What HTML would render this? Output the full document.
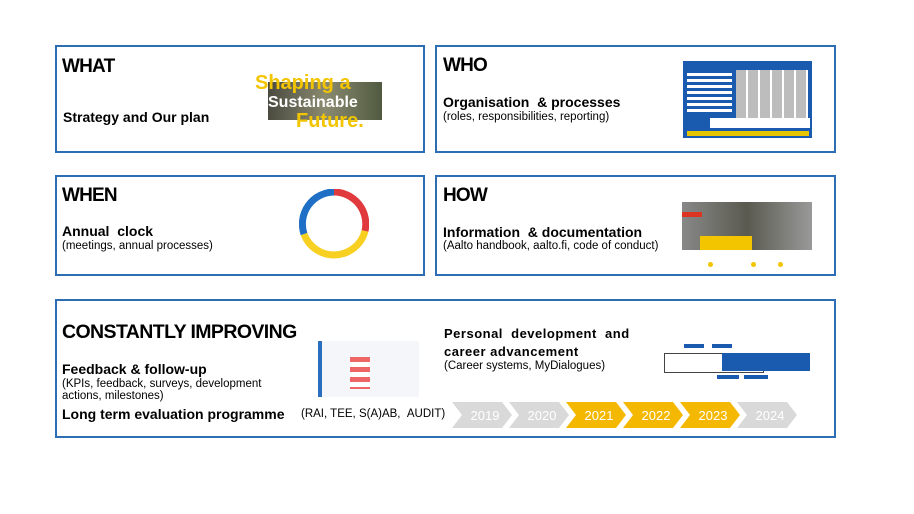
<!DOCTYPE html>
<html><head><meta charset="utf-8"><style>
body{margin:0;width:914px;height:514px;background:#fff;position:relative;overflow:hidden;font-family:"Liberation Sans",Arial,sans-serif;color:#000}
.b{position:absolute;border:2px solid #2d6db3;box-sizing:border-box}
.t{position:absolute;white-space:nowrap}
.h{font-weight:bold;font-size:19px;letter-spacing:-0.8px}
.s{font-weight:bold;font-size:14px}
.n{font-size:11.5px}
</style></head><body>
<div class="b" style="left:55px;top:45px;width:370px;height:108px"></div>
<div class="b" style="left:435px;top:45px;width:401px;height:108px"></div>
<div class="b" style="left:55px;top:175px;width:370px;height:101px"></div>
<div class="b" style="left:435px;top:175px;width:401px;height:101px"></div>
<div class="b" style="left:55px;top:299px;width:781px;height:139px"></div>

<div class="t h" style="left:62px;top:56px">WHAT</div>
<div class="t s" style="left:63px;top:109px">Strategy and Our plan</div>
<div style="position:absolute;left:268px;top:82px;width:114px;height:38px;background:linear-gradient(90deg,#4a4a40,#8a8a70,#505a40)"></div>
<div class="t" style="left:255px;top:72px;font-weight:bold;font-size:20px;color:#f2c500">Shaping a</div>
<div class="t" style="left:268px;top:94px;font-weight:bold;font-size:16px;color:#fff">Sustainable</div>
<div class="t" style="left:296px;top:110px;font-weight:bold;font-size:20px;color:#f2c500">Future.</div>

<div class="t h" style="left:443px;top:55px">WHO</div>
<div class="t s" style="left:443px;top:94px">Organisation &nbsp;&amp; processes</div>
<div class="t n" style="left:443px;top:111px">(roles, responsibilities, reporting)</div>
<div style="position:absolute;left:683px;top:61px;width:129px;height:77px;background:#1a5bb0"></div>
<div style="position:absolute;left:736px;top:70px;width:72px;height:48px;background:repeating-linear-gradient(90deg,#bdbdbd 0 10px,#fff 10px 12px)"></div>
<div style="position:absolute;left:687px;top:73px;width:45px;height:40px;background:repeating-linear-gradient(180deg,#fff 0 3px,#1a5bb0 3px 6px)"></div>
<div style="position:absolute;left:710px;top:118px;width:100px;height:10px;background:#fff"></div>
<div style="position:absolute;left:687px;top:131px;width:122px;height:5px;background:#e6c400"></div>

<div class="t h" style="left:62px;top:185px">WHEN</div>
<div class="t s" style="left:62px;top:223px">Annual &nbsp;clock</div>
<div class="t n" style="left:62px;top:240px">(meetings, annual processes)</div>
<svg style="position:absolute;left:299px;top:189px" width="70" height="70" viewBox="0 0 70 70">
<path d="M35 3 A32 32 0 0 1 66 42" fill="none" stroke="#e0393e" stroke-width="7"/>
<path d="M66 42 A32 32 0 0 1 5 45" fill="none" stroke="#f7d021" stroke-width="7"/>
<path d="M5 45 A32 32 0 0 1 35 3" fill="none" stroke="#1e6fc5" stroke-width="7"/>
</svg>

<div class="t h" style="left:443px;top:185px">HOW</div>
<div class="t s" style="left:443px;top:224px">Information &nbsp;&amp; documentation</div>
<div class="t n" style="left:443px;top:240px">(Aalto handbook, aalto.fi, code of conduct)</div>
<div style="position:absolute;left:682px;top:202px;width:130px;height:48px;background:linear-gradient(90deg,#888,#5a5a50,#999)"></div>
<div style="position:absolute;left:682px;top:212px;width:20px;height:5px;background:#d32"></div>
<div style="position:absolute;left:700px;top:236px;width:52px;height:14px;background:#f2c500"></div>
<div style="position:absolute;left:708px;top:262px;width:5px;height:5px;border-radius:50%;background:#f2c500"></div>
<div style="position:absolute;left:751px;top:262px;width:5px;height:5px;border-radius:50%;background:#f2c500"></div>
<div style="position:absolute;left:778px;top:262px;width:5px;height:5px;border-radius:50%;background:#f2c500"></div>

<div class="t h" style="left:62px;top:321px;font-size:19.5px;letter-spacing:-0.6px">CONSTANTLY IMPROVING</div>
<div class="t s" style="left:62px;top:361px">Feedback &amp; follow-up</div>
<div class="t n" style="left:62px;top:378px;line-height:12px">(KPIs, feedback, surveys, development<br>actions, milestones)</div>
<div class="t s" style="left:62px;top:406px">Long term evaluation programme</div>
<div class="t n" style="left:301px;top:408px">(RAI, TEE, S(A)AB, &nbsp;AUDIT)</div>
<div style="position:absolute;left:318px;top:341px;width:97px;height:56px;background:#f4f6fa;border-left:4px solid #2a6ec0"></div>
<div style="position:absolute;left:350px;top:357px;width:20px;height:32px;background:repeating-linear-gradient(180deg,#e66 0 5px,#fff 5px 10px)"></div>

<div class="t s" style="left:444px;top:326px;font-size:13px;letter-spacing:.5px">Personal &nbsp;development &nbsp;and</div>
<div class="t s" style="left:444px;top:344px;font-size:13px;letter-spacing:.5px">career advancement</div>
<div class="t n" style="left:444px;top:360px">(Career systems, MyDialogues)</div>
<div style="position:absolute;left:664px;top:353px;width:100px;height:20px;border:1px solid #444;box-sizing:border-box"></div>
<div style="position:absolute;left:722px;top:353px;width:88px;height:18px;background:#1a5bb0"></div>
<div style="position:absolute;left:717px;top:375px;width:22px;height:4px;background:#1a5bb0"></div>
<div style="position:absolute;left:744px;top:375px;width:24px;height:4px;background:#1a5bb0"></div>
<div style="position:absolute;left:684px;top:344px;width:20px;height:4px;background:#1a5bb0"></div>
<div style="position:absolute;left:712px;top:344px;width:20px;height:4px;background:#1a5bb0"></div>

<svg style="position:absolute;left:452px;top:402px" width="345" height="26">
<g font-family="Liberation Sans,Arial,sans-serif" font-size="13" fill="#fff" text-anchor="middle">
<polygon points="0,0 50,0 60,13 50,26 0,26 10,13" fill="#d9d9d9"/><text x="33" y="18">2019</text>
<polygon points="57,0 107,0 117,13 107,26 57,26 67,13" fill="#d9d9d9"/><text x="90" y="18">2020</text>
<polygon points="114,0 164,0 174,13 164,26 114,26 124,13" fill="#f5b800"/><text x="147" y="18">2021</text>
<polygon points="171,0 221,0 231,13 221,26 171,26 181,13" fill="#f5b800"/><text x="204" y="18">2022</text>
<polygon points="228,0 278,0 288,13 278,26 228,26 238,13" fill="#f5b800"/><text x="261" y="18">2023</text>
<polygon points="285,0 335,0 345,13 335,26 285,26 295,13" fill="#d9d9d9"/><text x="318" y="18">2024</text>
</g></svg>
</body></html>
